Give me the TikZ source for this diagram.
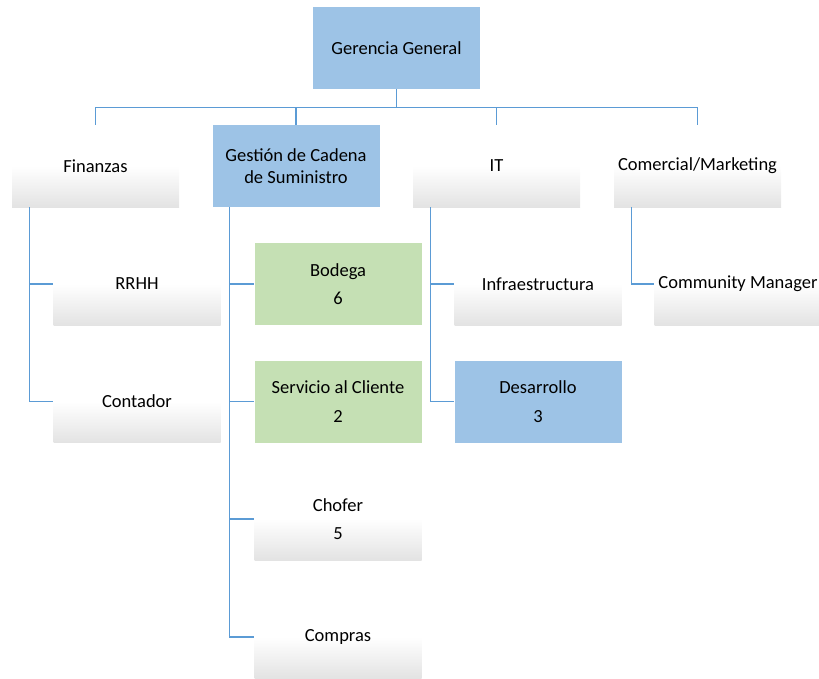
\documentclass[tikz,border=0pt]{standalone}
\usepackage{fontspec}
\setmainfont{Carlito}
\usetikzlibrary{positioning}
\definecolor{boxblue}{HTML}{9DC3E6}
\definecolor{boxgreen}{HTML}{C5E0B4}
\definecolor{linkblue}{HTML}{5B9BD5}
\tikzset{unit/.style = {minimum width=167pt, minimum height=82pt, inner sep=0pt,
                        align=center, font=\fontsize{18.5}{21.5}\selectfont},
         plain/.style = {unit, top color=white, bottom color=black!11, middle color=white},
         blue/.style = {unit, fill=boxblue},
         green/.style = {unit, fill=boxgreen},
         link/.style = {draw=linkblue, line width=1.2pt}}

\begin{document}
\begin{tikzpicture}[x=1pt, y=-1pt]
    \useasboundingbox (0, 0) rectangle (819, 678);
    \node [blue] (gg) at (396.5, 48) {Gerencia General};
    % second level
    \node [plain] (fin) at (95.5, 166) {Finanzas};
    \node [blue] (gest) at (296, 166) {Gestión de Cadena\\de Suministro};
    \node [plain] (it) at (496.5, 166) {IT};
    \node [plain] (com) at (697.5, 166) {Comercial/Marketing};
    % third level
    \node [plain] (rrhh) at (137, 284) {RRHH};
    \node [plain] (cont) at (137, 401.5) {Contador};
    \node [green] (bod) at (338, 284) {Bodega\\[7pt]6};
    \node [green] (serv) at (338, 401.5) {Servicio al Cliente\\[7pt]2};
    \node [plain] (chof) at (338, 519) {Chofer\\[7pt]5};
    \node [plain] (comp) at (338, 637) {Compras};
    \node [plain] (infra) at (538, 284) {Infraestructura};
    \node [blue] (des) at (538, 401.5) {Desarrollo\\[7pt]3};
    \node [plain] (cm) at (738, 284) {Community Manager};
    % connectors
    \foreach \n in {fin, gest, it, com}
      \draw [link] (gg.south) -- ++(0, 18) -| (\n.north);
    \foreach \p/\c in {fin/rrhh, fin/cont, gest/bod, gest/serv, gest/chof, gest/comp,
                       it/infra, it/des, com/cm}
      \draw [link] (\p.south west) ++(17.5, 0) |- (\c.west);
\end{tikzpicture}
\end{document}
